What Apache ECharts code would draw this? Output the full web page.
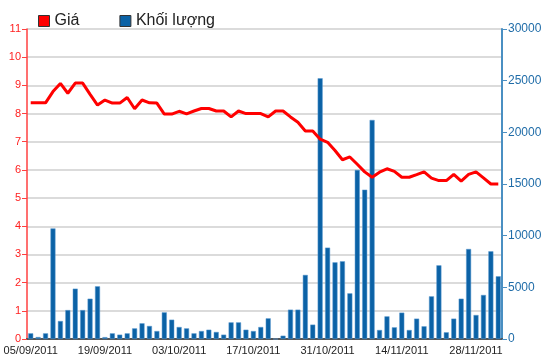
<!DOCTYPE html>
<html>
<head>
<meta charset="utf-8">
<script src="https://cdn.jsdelivr.net/npm/echarts@6/dist/echarts.min.js"></script>
<style>
  html, body { margin: 0; padding: 0; background: #fff; }
  #chart { width: 550px; height: 364px; }
</style>
</head>
<body>
<div id="chart"></div>
<script>
// ngày giao dịch
var dates = [
  "05/09/2011", "06/09/2011", "07/09/2011", "08/09/2011", "09/09/2011",
  "12/09/2011", "13/09/2011", "14/09/2011", "15/09/2011", "16/09/2011",
  "19/09/2011", "20/09/2011", "21/09/2011", "22/09/2011", "23/09/2011",
  "26/09/2011", "27/09/2011", "28/09/2011", "29/09/2011", "30/09/2011",
  "03/10/2011", "04/10/2011", "05/10/2011", "06/10/2011", "07/10/2011",
  "10/10/2011", "11/10/2011", "12/10/2011", "13/10/2011", "14/10/2011",
  "17/10/2011", "18/10/2011", "19/10/2011", "20/10/2011", "21/10/2011",
  "24/10/2011", "25/10/2011", "26/10/2011", "27/10/2011", "28/10/2011",
  "31/10/2011", "01/11/2011", "02/11/2011", "03/11/2011", "04/11/2011",
  "07/11/2011", "08/11/2011", "09/11/2011", "10/11/2011", "11/11/2011",
  "14/11/2011", "15/11/2011", "16/11/2011", "17/11/2011", "18/11/2011",
  "21/11/2011", "22/11/2011", "23/11/2011", "24/11/2011", "25/11/2011",
  "28/11/2011", "29/11/2011", "30/11/2011", "01/12/2011"
];

// giá
var price = [
  8.38, 8.38, 8.38, 8.78, 9.07, 8.72, 9.08, 9.08, 8.68, 8.30,
  8.48, 8.37, 8.37, 8.57, 8.17, 8.48, 8.38, 8.37, 7.98, 7.98,
  8.08, 7.99, 8.09, 8.18, 8.18, 8.09, 8.09, 7.88, 8.09, 8.00,
  8.00, 8.00, 7.88, 8.09, 8.09, 7.88, 7.69, 7.38, 7.38, 7.09,
  6.98, 6.69, 6.36, 6.46, 6.20, 5.93, 5.74, 5.92, 6.04, 5.95,
  5.74, 5.74, 5.83, 5.93, 5.71, 5.62, 5.62, 5.84, 5.60, 5.84,
  5.93, 5.72, 5.50, 5.50
];

// khối lượng
var volume = [
  550, 190, 550, 10700, 1740, 2800, 4870, 2800, 3900, 5100,
  180, 550, 420, 550, 1030, 1520, 1260, 770, 2580, 1870,
  1160, 1030, 550, 770, 900, 680, 420, 1610, 1610, 900,
  770, 1160, 2000, 0, 320, 2840, 2840, 6200, 1390, 25230,
  8840, 7420, 7520, 4420, 16360, 14450, 21200, 870, 2190, 1130,
  2550, 870, 1970, 1230, 4130, 7130, 650, 1970, 3900, 8710,
  2320, 4260, 8490, 6070
];

(function() {
  var myChart = echarts.init(document.getElementById("chart"));
  var font = "Liberation Sans, Arial, sans-serif";
  var option = {
    animation: false,
    textStyle: { fontFamily: font },
    legend: {
      left: 33,
      top: 8,
      itemWidth: 11,
      itemHeight: 11,
      itemGap: 40,
      icon: "rect",
      textStyle: { fontSize: 16, color: "#222", fontFamily: font },
      data: [
        { name: "Giá", itemStyle: { color: "#ff0000", borderColor: "#333", borderWidth: 1 } },
        { name: "Khối lượng", itemStyle: { color: "#0b62a6", borderColor: "#333", borderWidth: 1 } }
      ]
    },
    grid: {
      left: 27,
      right: 48,
      top: 29,
      bottom: 25
    },
    xAxis: [
      {
        type: "category",
        data: dates,
        boundaryGap: true,
        axisLine: { lineStyle: { color: "#222", width: 1.5 } },
        axisTick: { alignWithLabel: true, interval: 9, length: 5, lineStyle: { color: "#222" } },
        axisLabel: { interval: 9, color: "#222", fontSize: 11, margin: 6 }
      },
      {
        // đường viền trên
        type: "category",
        data: dates,
        position: "top",
        axisLine: { lineStyle: { color: "#555", width: 2 } },
        axisTick: { show: false },
        axisLabel: { show: false }
      }
    ],
    yAxis: [
      {
        type: "value",
        min: 0,
        max: 11,
        interval: 1,
        axisLine: { show: true, lineStyle: { color: "#ff4040", width: 1.5 } },
        axisTick: { show: true, length: 5, lineStyle: { color: "#ff4040" } },
        axisLabel: { color: "#ff2020", fontSize: 11, margin: 6 },
        splitLine: { lineStyle: { color: "#cfcfcf", width: 1.5 } }
      },
      {
        type: "value",
        min: 0,
        max: 30000,
        interval: 5000,
        position: "right",
        axisLine: { show: true, lineStyle: { color: "#4a8fc2", width: 2 } },
        axisTick: { show: true, length: 5, lineStyle: { color: "#4a8fc2" } },
        axisLabel: {
          color: "#1f6ca8",
          fontSize: 12,
          margin: 6,
          formatter: function(v) { return String(v); }
        },
        splitLine: { show: false }
      }
    ],
    series: [
      {
        name: "Khối lượng",
        type: "bar",
        yAxisIndex: 1,
        barWidth: 5,
        data: volume,
        itemStyle: { color: "#0b62a6", borderColor: "#5d9bd0", borderWidth: 0.5 }
      },
      {
        name: "Giá",
        type: "line",
        yAxisIndex: 0,
        data: price,
        showSymbol: false,
        symbol: "none",
        z: 5,
        lineStyle: { color: "#ff0000", width: 3 },
        itemStyle: { color: "#ff0000" }
      }
    ]
  };
  myChart.setOption(option);
  window.addEventListener("resize", function() {
    myChart.resize();
  });
})();
</script>
</body>
</html>
